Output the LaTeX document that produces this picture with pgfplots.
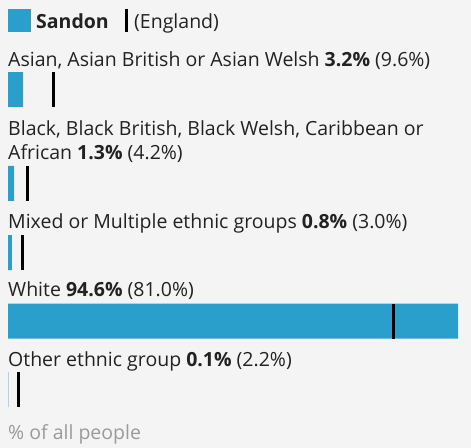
\documentclass[border=0pt]{standalone}
\usepackage{pgfplots}
\pgfplotsset{compat=1.18}
\usepackage{fontspec}
\setmainfont{Open Sans}
\definecolor{barc}{HTML}{2A9FCB}
\definecolor{bg}{HTML}{F4F4F4}
\definecolor{txt}{HTML}{222222}
\definecolor{note}{HTML}{9A9A9A}
\tikzset{lbl/.style={anchor=base west, inner sep=0pt, text=txt, font=\fontsize{19.5}{24}\selectfont}}
\begin{document}
\begin{tikzpicture}
\begin{axis}[width=471pt,height=448pt,scale only axis,
  xmin=-1.6818,xmax=97.33,ymin=0,ymax=448,y dir=reverse,
  axis line style={draw=none}, xtick=\empty, ytick=\empty,
  axis background/.style={fill=bg}, clip=false]
\addplot[xbar, fill=barc, draw=none, bar width=35] coordinates {(3.2,89.5) (1.3,183.3) (0.8,252.5) (94.6,321) (0.1,389.5)};
\addplot[only marks, mark=|, mark size=17.5pt, mark options={line width=3pt, draw=black}] coordinates {(9.6,89.5) (4.2,183.3) (3.0,252.5) (81.0,321) (2.2,389.5)};
% legend
\fill[barc] (axis cs:0,9) rectangle (axis cs:4.835,32);
\node[lbl] at (axis cs:5.886,28) {\textbf{Sandon}};
\draw[line width=3pt] (axis cs:24.81,9) -- (axis cs:24.81,32);
\node[lbl] at (axis cs:26.49,28) {(England)};
% labels
\node[lbl] at (axis cs:0,66) {Asian, Asian British or Asian Welsh \textbf{3.2\%} (9.6\%)};
\node[lbl] at (axis cs:0,135) {Black, Black British, Black Welsh, Caribbean or};
\node[lbl] at (axis cs:0,159) {African \textbf{1.3\%} (4.2\%)};
\node[lbl] at (axis cs:0,228) {Mixed or Multiple ethnic groups \textbf{0.8\%} (3.0\%)};
\node[lbl] at (axis cs:0,296.7) {White \textbf{94.6\%} (81.0\%)};
\node[lbl] at (axis cs:0,366) {Other ethnic group \textbf{0.1\%} (2.2\%)};
\node[lbl, text=note] at (axis cs:0,439) {\% of all people};
\end{axis}
\end{tikzpicture}
\end{document}
